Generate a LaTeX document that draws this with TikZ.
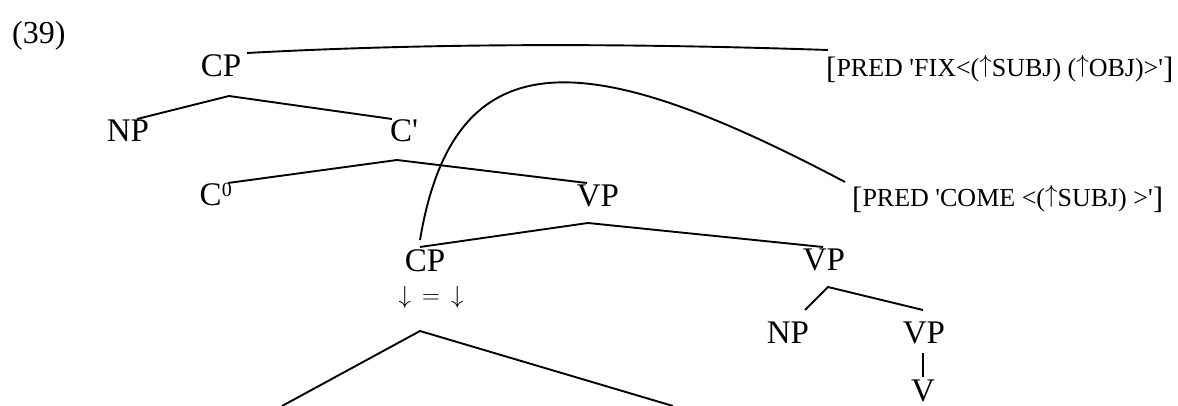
\documentclass[tikz,border=0pt]{standalone}
\usepackage{fontspec}
\setmainfont{Liberation Serif}
\newcommand{\upar}{\raisebox{0.17em}{$\uparrow$}}
\newcommand{\lbr}{{\fontsize{31}{31}\selectfont\raisebox{-0.05em}{[}}}
\newcommand{\rbr}{{\fontsize{31}{31}\selectfont\raisebox{-0.05em}{]}}}
\newcommand{\sq}{\textquotesingle}
\begin{document}
\begin{tikzpicture}[x=1pt,y=-1pt,
  lab/.style={anchor=base,inner sep=0pt,font=\fontsize{33}{36}\selectfont},
  fs/.style={anchor=base west,inner sep=0pt,font=\fontsize{26}{30}\selectfont},
  br/.style={line width=1.9pt},
  arc/.style={line width=1.9pt}]
\useasboundingbox (0,0) rectangle (1178,406);
% labels
\node[lab,anchor=base west,font=\fontsize{32}{36}\selectfont] (ex) at (12,44) {(39)};
\node[lab] (cp1) at (221,77) {CP};
\node[lab] (np1) at (128,142) {NP};
\node[lab] (cbar) at (404,142) {C\sq};
\node[lab] (c0) at (216,206) {C\textsuperscript{\fontsize{20}{20}\selectfont 0}};
\node[lab] (vp1) at (598,207) {VP};
\node[lab] (cp2) at (425,271) {CP};
\node[lab,font=\fontsize{23}{24}\selectfont] (eq) at (431,303) {$\downarrow\,{=}\,\downarrow$};
\node[lab] (vp2) at (824,270) {VP};
\node[lab] (np2) at (788,343) {NP};
\node[lab] (vp3) at (924,343) {VP};
\node[lab] (v) at (923,401) {V};
\node[fs] (fix) at (826,77) {\lbr PRED \sq FIX<(\upar SUBJ) (\upar OBJ)>\sq\rbr};
\node[fs] (come) at (852,207) {\lbr PRED \sq COME <(\upar SUBJ) >\sq\rbr};
% tree points
\coordinate (a1) at (229,96);
\coordinate (e1) at (137,119);
\coordinate (e2) at (392,119);
\coordinate (a2) at (397,160);
\coordinate (e3) at (228,183);
\coordinate (e4) at (587,183);
\coordinate (a3) at (588,223);
\coordinate (e5) at (420,247);
\coordinate (e6) at (823,247);
\coordinate (a4) at (828,287);
\coordinate (e7) at (805,310);
\coordinate (e8) at (923,310);
\coordinate (e9) at (923,353);
\coordinate (e10) at (923,377);
\coordinate (a5) at (420,331);
\coordinate (e11) at (282,406);
\coordinate (e12) at (673,406);
% curve ends
\coordinate (k1) at (247,53);
\coordinate (k2) at (828,50);
\coordinate (k3) at (420,240);
\coordinate (k4) at (845,182);
% branches
\draw[br] (e1) -- (a1) -- (e2);
\draw[br] (e3) -- (a2) -- (e4);
\draw[br] (e5) -- (a3) -- (e6);
\draw[br] (e7) -- (a4) -- (e8);
\draw[br] (e9) -- (e10);
\draw[br] (e11) -- (a5) -- (e12);
% correspondence curves
\draw[arc] (k1) .. controls (450,42) and (650,44) .. (k2);
\draw[arc] (k3) .. controls (455,30) and (595,50) .. (k4);
\end{tikzpicture}
\end{document}
